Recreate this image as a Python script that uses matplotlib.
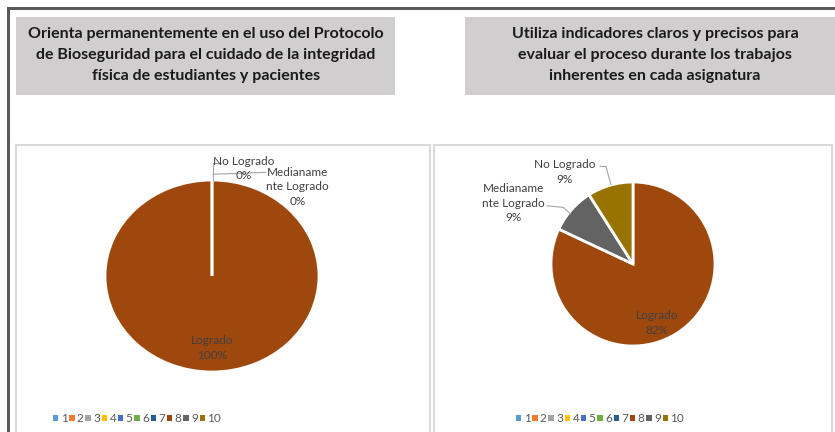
import matplotlib
matplotlib.use("Agg")
import matplotlib.pyplot as plt
from matplotlib.patches import Rectangle, Patch

W, H = 835, 432

# data
etiquetas = ["Logrado", "Medianamente Logrado", "No Logrado"]
etiquetas_txt = ["Logrado", "Medianame\nnte Logrado", "No Logrado"]
valores_1 = [100, 0, 0]
valores_2 = [82, 9, 9]
titulo_1 = "Orienta permanentemente en el uso del Protocolo\nde Bioseguridad para el cuidado de la integridad\nfísica de estudiantes y pacientes"
titulo_2 = "Utiliza indicadores claros y precisos para\nevaluar el proceso durante los trabajos\ninherentes en cada asignatura"
leyenda = ["1", "2", "3", "4", "5", "6", "7", "8", "9", "10"]
colores_leyenda = ["#5B9BD5", "#ED7D31", "#A5A5A5", "#FFC000", "#4472C4",
                   "#70AD47", "#255E91", "#9E480E", "#636363", "#997300"]
colores = ["#9E480E", "#636363", "#997300"]

plt.rcParams['font.family'] = ['Lato', 'DejaVu Sans']
txt_col = "#404040"

fig = plt.figure(figsize=(W / 100, H / 100), dpi=100)
fig.patch.set_facecolor("white")

def px_rect(x0, y0, x1, y1, **kw):
    # pixel coords (top-left origin) -> figure rectangle
    r = Rectangle((x0 / W, 1 - y1 / H), (x1 - x0) / W, (y1 - y0) / H,
                  transform=fig.transFigure, **kw)
    fig.add_artist(r)

# outer dark frame (left + top)
px_rect(7, 7, 10, 440, facecolor="#595959", edgecolor="none")
px_rect(7, 7, 840, 10, facecolor="#595959", edgecolor="none")

# title boxes
px_rect(16, 17, 395, 95, facecolor="#d0cece", edgecolor="none")
px_rect(465, 17, 840, 95, facecolor="#d0cece", edgecolor="none")
fig.text(206 / W, 1 - 55 / H, titulo_1, ha="center", va="center",
         fontsize=11.5, fontweight="bold", color="#1a1a1a", linespacing=1.62)
fig.text(655 / W, 1 - 55 / H, titulo_2, ha="center", va="center",
         fontsize=11.5, fontweight="bold", color="#1a1a1a", linespacing=1.62)

# chart area borders
px_rect(16, 145, 430, 445, facecolor="none", edgecolor="#d9d9d9", lw=1.5)
px_rect(434, 145, 832, 445, facecolor="none", edgecolor="#d9d9d9", lw=1.5)

def pie_axes(cx, cy, rx, ry):
    return fig.add_axes([(cx - rx) / W, 1 - (cy + ry) / H, 2 * rx / W, 2 * ry / H])

lab_kw = dict(fontsize=8.5, color=txt_col, ha="center", va="center", linespacing=1.4)
lead_kw = dict(color="#a6a6a6", lw=0.8, clip_on=False)

# left pie (slightly squashed in the source image)
ax1 = pie_axes(212, 276, 107, 96)
ax1.pie(valores_1, colors=colores, startangle=90, counterclock=False,
        radius=1, wedgeprops=dict(edgecolor="white", linewidth=2))
ax1.set_xlim(-1, 1); ax1.set_ylim(-1, 1)
ax1.set_aspect("auto")
ax1.text(0.0, -0.75, f"{etiquetas_txt[0]}\n{valores_1[0]}%", **lab_kw)
ax1.text(0.30, 1.12, f"{etiquetas_txt[2]}\n{valores_1[2]}%", **lab_kw)
ax1.text(0.80, 0.93, f"{etiquetas_txt[1]}\n{valores_1[1]}%", **lab_kw)
ax1.plot([0.01, 0.01, 0.08], [1.0, 1.18, 1.18], **lead_kw)
ax1.plot([0.01, 0.50], [1.06, 1.08], **lead_kw)

# right pie
ax2 = pie_axes(633, 264, 82, 82)
ax2.pie(valores_2, colors=colores, startangle=90, counterclock=False,
        radius=1, wedgeprops=dict(edgecolor="white", linewidth=2))
ax2.set_xlim(-1, 1); ax2.set_ylim(-1, 1)
ax2.set_aspect("auto")
ax2.text(0.29, -0.72, f"{etiquetas_txt[0]}\n{valores_2[0]}%", **lab_kw)
ax2.text(-0.83, 1.12, f"{etiquetas_txt[2]}\n{valores_2[2]}%", **lab_kw)
ax2.text(-1.46, 0.74, f"{etiquetas_txt[1]}\n{valores_2[1]}%", **lab_kw)
ax2.plot([-0.40, -0.33, -0.27], [1.19, 1.19, 0.97], **lead_kw)
ax2.plot([-1.05, -0.85, -0.76], [0.71, 0.69, 0.61], **lead_kw)

# legends
handles = [Patch(facecolor=c, edgecolor="none") for c in colores_leyenda]
for xc in (137, 600):
    fig.legend(handles, leyenda, loc="center", ncol=10,
               bbox_to_anchor=(xc / W, 1 - 419 / H), frameon=False,
               fontsize=8.5, handlelength=0.45, handleheight=0.45,
               handletextpad=0.2, columnspacing=0.15, labelcolor="#595959")

fig.savefig("out.png", dpi=100)
